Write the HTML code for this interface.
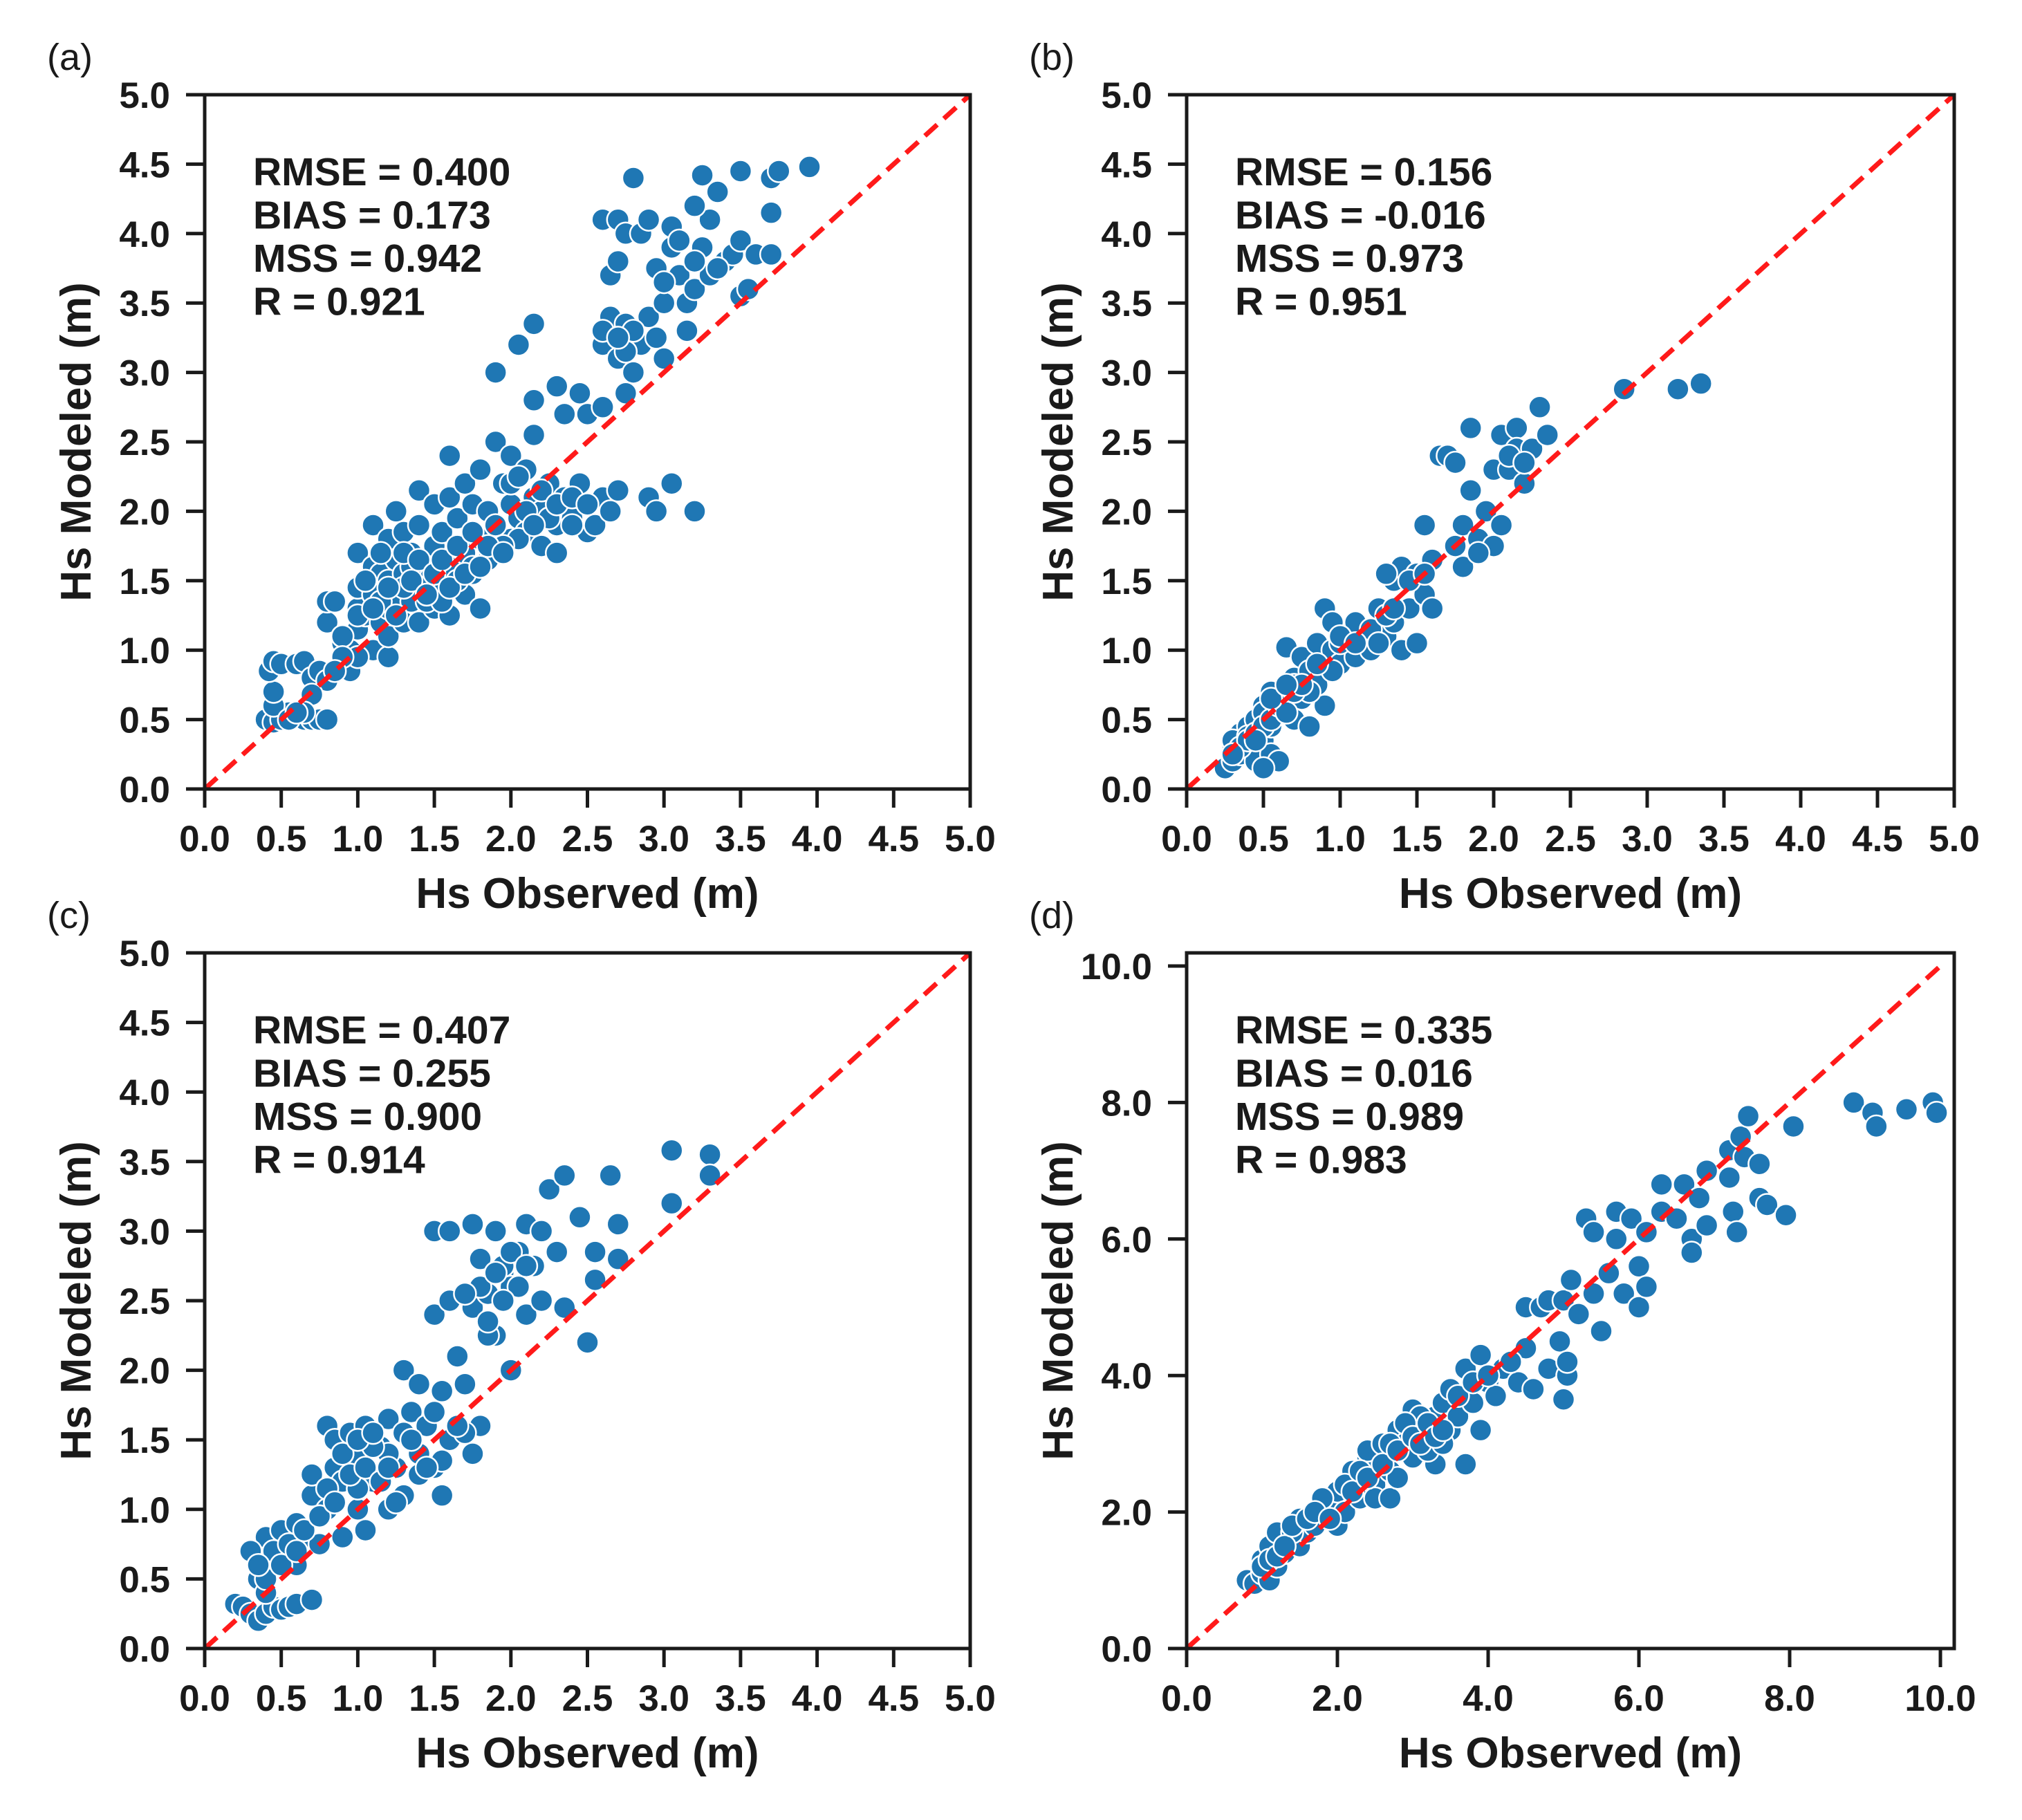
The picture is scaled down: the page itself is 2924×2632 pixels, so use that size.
<!DOCTYPE html>
<html><head><meta charset="utf-8">
<style>
html,body{margin:0;padding:0;background:#fff;}
svg{display:block;}
text{font-family:"Liberation Sans",Arial,sans-serif;fill:#1a1a1a;}
</style></head>
<body>
<svg id="fig" width="2924" height="2632" viewBox="0 0 2924 2632" xmlns="http://www.w3.org/2000/svg"></svg>
<script>
// ---- data arrays (observed, modeled) ----
const aObs = [0.4,0.45,0.5,0.55,0.6,0.65,0.7,0.75,0.8,0.45,0.45,0.42,0.45,0.5,0.6,0.65,0.7,0.75,0.8,0.7,0.65,
0.8,0.8,0.85,0.9,0.95,0.95,1.0,1.0,1.0,1.0,1.05,1.1,1.1,1.1,1.1,1.15,1.15,1.2,1.2,1.2,1.2,1.2,1.25,1.25,1.25,1.3,1.3,1.3,1.35,1.35,1.4,1.4,1.4,1.4,1.45,1.5,1.5,1.5,1.55,1.55,1.6,1.6,1.6,1.65,1.7,1.7,1.7,1.75,1.75,1.8,1.8,1.8,1.85,1.9,1.9,1.95,2.0,2.0,2.0,2.05,2.1,2.1,2.15,2.15,2.2,2.2,2.25,2.3,2.3,2.35,2.4,2.45,2.5,2.55,2.6,2.65,2.7,2.9,2.95,3.05,3.2,
1.6,1.9,2.05,2.15,2.15,2.3,2.35,2.45,2.5,2.6,2.6,2.65,2.7,2.75,2.75,2.8,2.85,2.9,2.95,3.0,2.65,2.7,2.6,2.7,2.75,2.85,2.9,2.95,3.0,3.05,3.05,3.1,3.15,3.15,3.2,3.25,3.3,3.3,3.35,3.4,3.45,3.5,3.55,3.5,3.6,3.7,3.7,3.7,3.75,3.25,3.5,3.95,2.8,3.2,
0.9,1.0,1.3,1.45,1.65,1.85,2.05,2.25,2.4,1.15,1.35,1.55,1.75,1.95,
1.05,1.1,1.15,1.2,1.25,1.3,1.35,1.4,1.45,1.5,1.55,1.6,1.65,1.7,1.75,1.8,1.85,1.9,1.95,2.0,2.05,2.1,2.15,2.2,2.3,2.4,2.5,1.0,0.9,0.85,2.75,2.8,3.0,3.1,3.2,3.35,2.6,2.7,0.55,0.6];
const aMod = [0.5,0.48,0.5,0.55,0.52,0.5,0.5,0.5,0.5,0.6,0.7,0.85,0.92,0.9,0.9,0.92,0.8,0.85,0.78,0.68,0.55,
1.2,1.35,1.35,1.05,0.85,1.0,1.15,1.3,1.45,1.7,1.25,1.0,1.4,1.6,1.9,1.55,1.2,0.95,1.1,1.3,1.5,1.8,1.4,1.65,2.0,1.2,1.55,1.85,1.35,1.7,1.2,1.5,1.9,2.15,1.6,1.3,1.75,2.05,1.45,1.85,1.25,1.6,2.1,1.95,1.4,1.7,2.2,1.55,2.05,1.3,1.8,2.3,2.0,1.75,2.5,2.2,1.8,2.05,2.4,1.95,2.3,1.85,2.55,2.1,1.75,2.0,2.2,1.9,1.7,2.1,1.95,2.2,1.85,1.9,2.1,2.0,2.15,2.1,2.0,2.2,2.0,
2.4,3.0,3.2,3.35,2.8,2.9,2.7,2.85,2.7,2.75,3.2,3.4,3.1,3.35,2.85,3.0,3.2,3.4,3.25,3.1,3.7,3.8,4.1,4.1,4.0,4.0,4.1,3.75,3.5,3.9,4.05,3.7,3.5,3.3,3.6,3.9,4.1,3.7,4.3,3.8,3.85,3.55,3.6,3.95,3.85,3.85,4.15,4.4,4.45,4.42,4.45,4.48,4.4,4.2,
1.1,1.25,1.45,1.35,1.5,1.65,1.8,1.95,1.9,1.35,1.6,1.35,1.6,1.75,
1.5,1.3,1.7,1.45,1.25,1.7,1.5,1.65,1.4,1.55,1.65,1.45,1.75,1.55,1.85,1.6,1.75,1.9,1.7,2.2,2.25,2.0,1.9,2.15,2.05,2.1,2.05,0.95,0.95,0.85,3.15,3.3,3.65,3.95,3.8,3.75,3.3,3.25,0.5,0.55];

const bObs = [0.25,0.3,0.3,0.35,0.35,0.4,0.4,0.45,0.45,0.5,0.5,0.55,0.55,0.6,0.6,0.65,0.65,0.7,0.7,0.75,0.75,0.8,0.8,0.85,0.85,0.9,0.9,0.95,0.95,1.0,1.05,1.1,1.15,1.2,1.25,1.3,1.35,1.35,1.4,1.4,1.45,1.5,1.5,1.55,1.55,1.6,1.6,1.65,1.7,1.75,1.75,1.8,1.8,1.85,1.85,1.9,1.95,2.0,2.0,2.05,2.05,2.1,2.15,2.15,2.2,2.25,2.3,2.35,2.85,3.2,3.35,1.3,1.1,0.55,0.6,0.5,0.3,0.4,0.5,0.6,0.7,0.8,1.0,1.2,1.0,
0.35,0.4,0.45,0.5,0.55,0.6,0.65,0.7,0.75,0.3,0.45,0.55,0.65,1.2,1.25,1.3,1.35,1.45,1.55,1.1,0.95,0.85,2.1,2.2,1.9];
const bMod = [0.15,0.2,0.3,0.4,0.25,0.45,0.3,0.2,0.5,0.35,0.6,0.45,0.25,0.55,0.7,0.6,1.02,0.5,0.8,0.65,0.95,0.45,0.85,0.75,1.05,0.6,1.3,1.0,1.2,0.9,1.1,0.95,1.15,1.0,1.3,1.1,1.5,1.2,1.0,1.6,1.3,1.05,1.55,1.9,1.4,1.3,1.65,2.4,2.4,2.35,1.75,1.9,1.6,2.6,2.15,1.8,2.0,2.3,1.75,2.55,1.9,2.3,2.6,2.45,2.2,2.45,2.75,2.55,2.88,2.88,2.92,1.55,1.2,0.7,0.2,0.15,0.35,0.38,0.55,0.6,0.75,0.7,1.05,1.15,1.1,
0.3,0.35,0.4,0.45,0.5,0.6,0.55,0.7,0.75,0.25,0.35,0.65,0.75,1.15,1.05,1.25,1.3,1.5,1.55,1.05,0.85,0.9,2.4,2.35,1.7];

const cObs = [0.2,0.25,0.3,0.35,0.4,0.45,0.5,0.55,0.6,0.7,0.35,0.35,0.4,0.45,0.5,0.55,0.6,0.65,0.7,0.7,0.75,0.8,0.8,0.85,0.85,0.9,0.9,0.95,1.0,1.0,1.05,1.05,1.1,1.15,1.2,1.2,1.25,1.3,1.3,1.3,1.35,1.4,1.4,1.45,1.5,1.5,1.55,1.55,1.6,1.6,1.65,1.7,1.75,1.75,1.8,1.8,1.85,1.9,1.9,1.95,2.0,2.0,2.05,2.1,2.1,2.15,2.2,2.2,2.25,2.3,2.35,2.35,2.45,2.5,2.55,2.55,2.65,2.7,2.7,3.05,3.05,3.3,3.3,1.5,1.6,1.75,1.55,1.2,0.6,0.75,0.9,1.0,1.1,1.25,1.4,1.7,1.85,1.95,2.05,0.4,0.5,
0.4,0.45,0.5,0.55,0.6,0.65,0.75,0.8,0.85,0.9,0.95,1.0,1.05,1.1,1.15,1.2,1.35,1.45,1.5,1.8,1.9,2.0,2.1,1.85,1.95,1.7,1.65,0.3,0.35];
const cMod = [0.32,0.3,0.25,0.2,0.25,0.3,0.28,0.3,0.32,0.35,0.5,0.7,0.8,0.6,0.85,0.65,0.9,0.8,1.1,1.25,0.75,1.0,1.6,1.3,1.5,0.8,1.2,1.55,1.0,1.35,0.85,1.6,1.2,1.45,1.0,1.65,1.3,1.1,1.55,2.0,1.7,1.4,1.9,1.6,1.3,2.4,1.1,1.85,1.5,2.5,2.1,1.9,1.4,2.45,1.6,2.8,2.55,2.25,3.0,2.7,2.0,2.6,2.85,2.4,3.05,2.75,2.5,3.0,3.3,2.85,2.45,3.4,3.1,2.2,2.85,2.65,3.4,2.8,3.05,3.2,3.58,3.55,3.4,3.0,3.0,3.05,1.35,1.4,0.6,0.95,1.4,1.15,1.45,1.05,1.25,1.55,2.25,2.75,2.6,0.4,0.6,
0.5,0.7,0.6,0.75,0.7,0.85,0.95,1.15,1.05,1.4,1.25,1.5,1.3,1.55,1.2,1.3,1.5,1.3,1.7,2.6,2.7,2.85,2.75,2.35,2.5,2.55,1.6,0.7,0.6];

const dObs = [0.8,0.9,1.0,1.0,1.1,1.1,1.2,1.2,1.3,1.4,1.5,1.5,1.6,1.7,1.8,1.9,2.0,2.0,2.1,2.2,2.3,2.4,2.5,2.5,2.6,2.7,2.7,2.8,2.8,2.9,3.0,3.0,3.1,3.2,3.3,3.3,3.4,3.5,3.5,3.6,3.7,3.7,3.8,3.9,3.9,4.0,4.1,4.2,4.4,4.5,4.6,4.8,4.5,4.7,4.8,5.0,4.95,5.0,5.05,5.05,5.1,5.2,5.4,5.5,5.3,5.4,5.6,5.7,5.7,5.8,5.9,6.0,6.0,6.1,6.1,6.3,6.3,6.5,6.6,6.7,6.7,6.8,6.9,6.9,7.2,7.2,7.25,7.3,7.35,7.4,7.45,7.6,7.6,7.7,7.95,8.05,8.85,9.1,9.15,9.55,9.9,9.95,2.4,2.6,2.9,3.1,3.2,3.4,1.4,1.8,
1.0,1.1,1.2,1.3,1.4,1.6,1.7,1.9,2.1,2.2,2.3,2.4,2.6,2.7,2.8,2.9,3.0,3.1,3.2,3.3,3.4,3.6,3.8,4.0,4.3];
const dMod = [1.0,0.95,1.1,1.3,1.0,1.5,1.2,1.7,1.4,1.6,1.5,1.9,1.7,1.8,2.0,2.1,1.8,2.3,2.0,2.6,2.2,2.8,2.4,2.2,2.9,2.6,2.2,3.2,2.5,3.0,3.5,2.8,3.2,2.9,3.4,2.7,3.6,3.2,3.8,3.4,2.7,4.1,3.6,4.3,3.2,3.9,3.7,4.1,3.9,4.4,3.8,4.1,5.0,5.0,5.1,5.1,4.5,3.65,4.0,4.2,5.4,4.9,5.2,4.65,6.3,6.1,5.5,6.0,6.4,5.2,6.3,5.0,5.6,5.3,6.1,6.8,6.4,6.3,6.8,6.0,5.8,6.6,7.0,6.2,6.9,7.3,6.4,6.1,7.5,7.2,7.8,7.1,6.6,6.5,6.35,7.65,8.0,7.85,7.65,7.9,8.0,7.85,2.9,3.0,3.3,3.4,2.9,3.0,1.7,2.2,
1.2,1.3,1.35,1.5,1.8,1.9,2.0,1.9,2.4,2.3,2.6,2.5,2.7,3.0,2.9,3.3,3.1,3.0,3.3,3.1,3.2,3.7,3.9,4.0,4.2];

const tick5 = [0.0,0.5,1.0,1.5,2.0,2.5,3.0,3.5,4.0,4.5,5.0];
const tick10 = [0,2,4,6,8,10];
const statsA = ["RMSE = 0.400","BIAS = 0.173","MSS = 0.942","R = 0.921"];
const statsB = ["RMSE = 0.156","BIAS = -0.016","MSS = 0.973","R = 0.951"];
const statsC = ["RMSE = 0.407","BIAS = 0.255","MSS = 0.900","R = 0.914"];
const statsD = ["RMSE = 0.335","BIAS = 0.016","MSS = 0.989","R = 0.983"];

const NS = "http://www.w3.org/2000/svg";
const svg = document.getElementById('fig');
function mk(tag, attrs, parent){const e=document.createElementNS(NS,tag);for(const k in attrs)e.setAttribute(k,attrs[k]);(parent||svg).appendChild(e);return e;}

const panels = [
 {id:'a', L:296, R:1403, T:137, B:1141, max:5, xEnd:1403, yEnd:137, ticks:tick5, obs:aObs, mod:aMod, stats:statsA},
 {id:'b', L:1716, R:2826, T:137, B:1141, max:5, xEnd:2826, yEnd:137, ticks:tick5, obs:bObs, mod:bMod, stats:statsB},
 {id:'c', L:296, R:1403, T:1378, B:2384, max:5, xEnd:1403, yEnd:1378, ticks:tick5, obs:cObs, mod:cMod, stats:statsC},
 {id:'d', L:1716, R:2826, T:1378, B:2384, max:10, xEnd:2806, yEnd:1397, ticks:tick10, obs:dObs, mod:dMod, stats:statsD}
];

panels.forEach(p=>{
  const g = mk('g',{});
  
  
  const xs = v => p.L + (v/p.max)*(p.xEnd-p.L);
  const ys = v => p.B - (v/p.max)*(p.B-p.yEnd);

  const lab = mk('text',{x:p.L-228, y:p.T-36, 'font-size':54},g);
  lab.textContent='('+p.id+')';
  
  

  p.ticks.forEach(t=>{
    const tx = xs(t), ty = ys(t);
    mk('line',{x1:tx,y1:p.B,x2:tx,y2:p.B+27,stroke:'#1a1a1a','stroke-width':5},g);
    const xl = mk('text',{x:tx,y:p.B+90,'font-size':53,'font-weight':'bold','text-anchor':'middle'},g);
    xl.textContent=t.toFixed(1);
    
    
    mk('line',{x1:p.L-27,y1:ty,x2:p.L,y2:ty,stroke:'#1a1a1a','stroke-width':5},g);
    const yl = mk('text',{x:p.L-50,y:ty+19,'font-size':53,'font-weight':'bold','text-anchor':'end'},g);
    yl.textContent=t.toFixed(1);
    
    
  });

  const pg = mk('g',{},g);
  
  
  p.obs.forEach((o,i)=>{
    const c = mk('circle',{cx:xs(o),cy:ys(p.mod[i]),r:16,fill:'#1f77b4',stroke:'#fff','stroke-width':2.5},pg);
    
    
  });

  const ln = mk('line',{x1:xs(0),y1:ys(0),x2:xs(p.max),y2:ys(p.max),stroke:'#ff1a1a','stroke-width':7,'stroke-dasharray':'24 13'},g);
  
  

  const fr = mk('rect',{x:p.L,y:p.T,width:p.R-p.L,height:p.B-p.T,fill:'none',stroke:'#1a1a1a','stroke-width':5},g);
  
  

  p.stats.forEach((s,i)=>{
    const st = mk('text',{x:p.L+70,y:p.T+131+i*62.5,'font-size':57,'font-weight':'bold'},g);
    st.textContent=s;
    
    
  });

  const xt = mk('text',{x:(p.L+p.R)/2,y:p.B+172,'font-size':62,'font-weight':'bold','text-anchor':'middle'},g);
  xt.textContent='Hs Observed (m)';
  
  
  const cy=(p.T+p.B)/2, cx=p.L-165;
  const yt = mk('text',{x:cx,y:cy,'font-size':62,'font-weight':'bold','text-anchor':'middle',transform:'rotate(-90 '+cx+' '+cy+')'},g);
  yt.textContent='Hs Modeled (m)';
  
  
});
</script>
</body></html>
